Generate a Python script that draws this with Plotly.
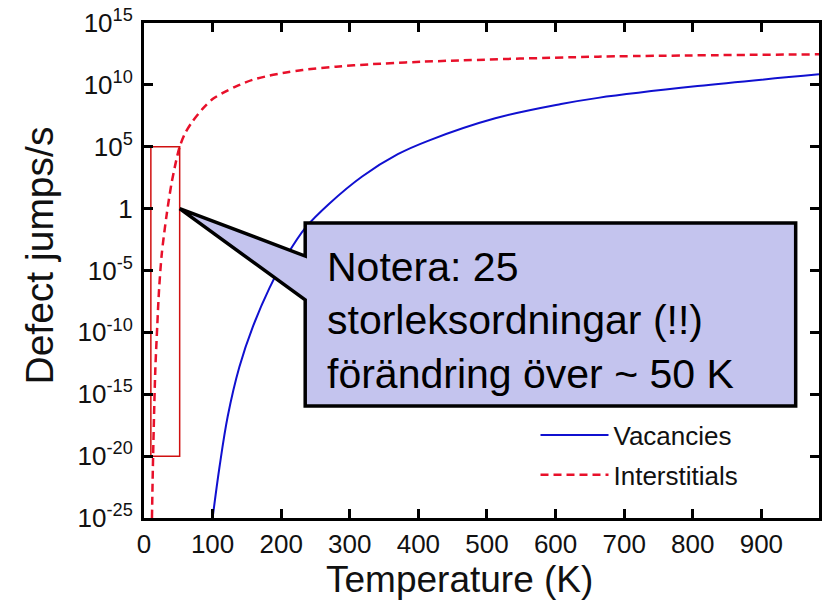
import plotly.graph_objects as go

# Jump rate curves: temperature (K) and log10 of jumps per second
vac_T = [100, 110, 122, 139, 159, 183, 207, 236, 270, 318, 370, 415, 512, 608, 662, 807, 984]
vac_log = [-25, -20.9, -16.8, -12.8, -9.5, -6.4, -3.9, -1.5, 0.4, 2.6, 4.4, 5.5, 7.3, 8.45, 8.95, 9.9, 10.85]

int_T = [11.6, 12.9, 14.5, 16.5, 19.3, 22, 26, 33, 40, 47, 52, 60, 70, 86, 100, 115,
         135, 158, 183, 207, 231, 280, 328, 405, 662, 984]
int_log = [-25, -21, -17, -13, -9.5, -6.5, -3.6, -0.5, 2.0, 3.9, 5.0, 6.1, 7.0, 8.1, 8.85, 9.35,
           9.9, 10.4, 10.75, 11.0, 11.2, 11.47, 11.66, 11.87, 12.28, 12.47]

# Highlighted window: temperature span and rate span
box_T = [10, 52]
box_log = [-20, 5]

# Callout: pointer tip and balloon corners (temperature, log10 rate)
tip = (52, 0)
balloon_T = [235, 950]
balloon_log = [-1.16, -15.95]
pointer_log = [-3.83, -7.38]
note_lines = ["Notera: 25", "storleksordningar (!!)", "förändring över ~ 50 K"]

# Axis ticks
x_ticks = [0, 100, 200, 300, 400, 500, 600, 700, 800, 900]
y_exps = [-25, -20, -15, -10, -5, 0, 5, 10, 15]
y_ticktext = ["1" if e == 0 else "10<sup>%d</sup>" % e for e in y_exps]

FONT = "Liberation Sans, Arial, sans-serif"

fig = go.Figure()

fig.add_trace(go.Scatter(
    x=vac_T, y=[10 ** v for v in vac_log], mode="lines", name="Vacancies",
    line=dict(color="#1010d0", width=2, shape="spline", smoothing=1.0),
    legendgroup="v",
))
fig.add_trace(go.Scatter(
    x=int_T, y=[10 ** v for v in int_log], mode="lines", name="Interstitials",
    line=dict(color="#e8102a", width=2.5, dash="8px,5px", shape="spline", smoothing=0.8),
    legendgroup="i",
))

# Red rectangle around the steep part of the interstitial curve
fig.add_trace(go.Scatter(
    x=[box_T[0], box_T[1], box_T[1], box_T[0], box_T[0]],
    y=[10 ** box_log[1], 10 ** box_log[1], 10 ** box_log[0], 10 ** box_log[0], 10 ** box_log[1]],
    mode="lines", line=dict(color="#d01010", width=1.5), showlegend=False, hoverinfo="skip",
))

# Speech balloon
bx = [tip[0], balloon_T[0], balloon_T[0], balloon_T[1], balloon_T[1], balloon_T[0], balloon_T[0], tip[0]]
by = [tip[1], pointer_log[0], balloon_log[0], balloon_log[0], balloon_log[1], balloon_log[1],
      pointer_log[1], tip[1]]
fig.add_trace(go.Scatter(
    x=bx, y=[10 ** v for v in by], mode="lines", fill="toself", fillcolor="#c4c4ee",
    line=dict(color="black", width=3.5), showlegend=False, hoverinfo="skip",
))

fig.add_annotation(
    x=264, y=-9.0, xref="x", yref="y", xanchor="left", yanchor="middle",
    text="<br>".join(note_lines), showarrow=False, align="left",
    font=dict(family=FONT, size=41, color="black"),
)

fig.add_annotation(
    x=460, y=-0.17, xref="x", yref="paper", xanchor="center", yanchor="bottom",
    text="Temperature (K)", showarrow=False, font=dict(family=FONT, size=37, color="#111"),
)
fig.add_annotation(
    x=-0.155, y=0.531, xref="paper", yref="paper", xanchor="center", yanchor="middle",
    text="Defect jumps/s", textangle=-90, showarrow=False,
    font=dict(family=FONT, size=39, color="#111"),
)

axis_common = dict(
    showline=True, linecolor="black", linewidth=3, mirror="ticks",
    ticks="inside", ticklen=9, tickwidth=3, tickcolor="black",
    showgrid=False, zeroline=False,
    tickfont=dict(family=FONT, size=26, color="#111"),
)

fig.update_xaxes(range=[0, 984], tickvals=x_ticks, ticklabelstandoff=1, **axis_common)
fig.update_yaxes(type="log", range=[-25, 15], tickvals=[10 ** e for e in y_exps],
                 ticktext=y_ticktext, ticklabelstandoff=3, **axis_common)

fig.update_layout(
    width=827, height=604,
    margin=dict(l=144, r=5, t=23, b=86),
    paper_bgcolor="white", plot_bgcolor="white",
    showlegend=True,
    legend=dict(
        x=0.58, y=0.215, xanchor="left", yanchor="top",
        bgcolor="rgba(255,255,255,0)", itemwidth=68,
        traceorder="grouped", tracegroupgap=3,
        font=dict(family=FONT, size=26, color="#111"),
    ),
)

fig.write_html("out.html")
